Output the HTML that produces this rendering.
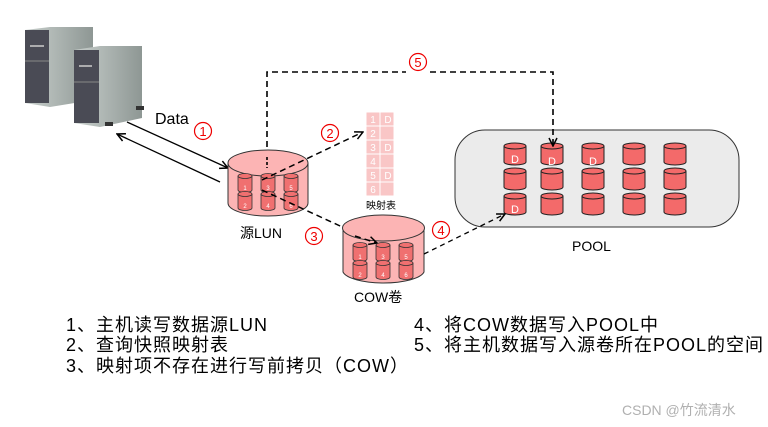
<!DOCTYPE html>
<html><head><meta charset="utf-8"><style>
html,body{margin:0;padding:0;background:#fff;}
svg{display:block;}
text{font-family:"Liberation Sans","Noto Sans CJK SC",sans-serif;}
</style></head><body>
<svg width="768" height="427" viewBox="0 0 768 427" xmlns="http://www.w3.org/2000/svg">
<defs>
<marker id="ah" markerWidth="10" markerHeight="10" refX="9" refY="5" orient="auto" markerUnits="userSpaceOnUse"><path d="M1,1 L9,5 L1,9" fill="none" stroke="#000" stroke-width="1.5"/></marker>
<g id="mc"><path d="M-7,-7 V7 A7,2.5 0 0 0 7,7 V-7" fill="#f07070" stroke="#333" stroke-width="0.8"/><ellipse cx="0" cy="-7" rx="7" ry="2.5" fill="#f07070" stroke="#333" stroke-width="0.8"/></g>
<g id="pc"><path d="M-11,-8 V8 A11,3 0 0 0 11,8 V-8" fill="#f36a6a" stroke="#222" stroke-width="1"/><ellipse cx="0" cy="-8" rx="11" ry="3" fill="#f36a6a" stroke="#222" stroke-width="1"/></g>
<linearGradient id="sg" x1="0" x2="1"><stop offset="0" stop-color="#c8cfcc"/><stop offset="1" stop-color="#8e9794"/></linearGradient>
</defs>
<!-- servers -->
<g>
<polygon points="25,30 50,27 93,27 93,100 50,107 25,103" fill="url(#sg)"/>
<rect x="25" y="30" width="24" height="73" fill="#4a4b55"/>
<line x1="30" y1="46" x2="44" y2="46" stroke="#ccc" stroke-width="1.5"/>
<line x1="25" y1="61" x2="49" y2="61" stroke="#888"/>
<polygon points="74,50 100,46 142,46 142,118 100,127 74,123" fill="url(#sg)"/>
<rect x="74" y="50" width="25" height="73" fill="#4a4b55"/>
<line x1="79" y1="66" x2="92" y2="66" stroke="#ccc" stroke-width="1.5"/>
<line x1="74" y1="82" x2="99" y2="82" stroke="#888"/>
<rect x="105" y="122" width="8" height="4" fill="#333"/>
<rect x="136" y="106" width="8" height="4" fill="#333"/>
</g>
<!-- POOL (drawn first so arrows are on top) -->
<rect x="455" y="130" width="284" height="97" rx="30" ry="30" fill="#ebebeb" stroke="#333"/>
<g>
<use href="#pc" x="515" y="154"/><use href="#pc" x="552" y="154"/><use href="#pc" x="593" y="154"/><use href="#pc" x="634" y="154"/><use href="#pc" x="675" y="154"/>
<use href="#pc" x="515" y="179"/><use href="#pc" x="552" y="179"/><use href="#pc" x="593" y="179"/><use href="#pc" x="634" y="179"/><use href="#pc" x="675" y="179"/>
<use href="#pc" x="515" y="204"/><use href="#pc" x="552" y="204"/><use href="#pc" x="593" y="204"/><use href="#pc" x="634" y="204"/><use href="#pc" x="675" y="204"/>
</g>
<g font-size="11" fill="#fff" text-anchor="middle"><text x="515" y="163">D</text><text x="552" y="165">D</text><text x="593" y="165">D</text><text x="515" y="213">D</text></g>
<text x="572" y="251" font-size="14">POOL</text>
<!-- data arrows -->
<line x1="127" y1="122" x2="228" y2="168" stroke="#000" stroke-width="1.3" marker-end="url(#ah)"/>
<line x1="220" y1="182" x2="117" y2="134" stroke="#000" stroke-width="1.3" marker-end="url(#ah)"/>
<text x="155" y="124" font-size="16">Data</text>
<g fill="none" stroke="#e00" stroke-width="1.2">
<circle cx="203" cy="131" r="8.5"/>
<circle cx="330" cy="133" r="8.5"/>
<circle cx="314" cy="236" r="8.5"/>
<circle cx="441" cy="230" r="8.5"/>
<circle cx="418" cy="62" r="8.5"/>
</g>
<g font-size="13" fill="#e00" text-anchor="middle">
<text x="203" y="136">1</text><text x="330" y="138">2</text><text x="314" y="241">3</text><text x="441" y="235">4</text><text x="418" y="67">5</text>
</g>
<!-- path 5 -->
<polyline points="267,157 267,72 406,72" fill="none" stroke="#000" stroke-width="1.6" stroke-dasharray="6,4"/>
<polyline points="430,72 553,72 553,146" fill="none" stroke="#000" stroke-width="1.6" stroke-dasharray="6,4" marker-end="url(#ah)"/>
<!-- source LUN -->
<path d="M228,163 V203 A40,13 0 0 0 308,203 V163" fill="#fcb4b4" stroke="#333"/>
<ellipse cx="268" cy="163" rx="40" ry="13" fill="#fcb4b4" stroke="#333"/>
<use href="#mc" x="245" y="183"/><use href="#mc" x="268" y="183"/><use href="#mc" x="291" y="183"/>
<use href="#mc" x="245" y="201"/><use href="#mc" x="268" y="201"/><use href="#mc" x="291" y="201"/>
<g font-size="6" fill="#fff" text-anchor="middle"><text x="245" y="190">1</text><text x="268" y="190">3</text><text x="291" y="190">5</text><text x="245" y="208">2</text><text x="268" y="208">4</text><text x="291" y="208">6</text></g>
<text x="240" y="238" font-size="14">源LUN</text>
<line x1="267" y1="157" x2="267" y2="168" stroke="#000" stroke-width="1.6" stroke-dasharray="3,2"/>
<!-- mapping arrow 2 -->
<line x1="262" y1="180" x2="363" y2="132" stroke="#000" stroke-width="1.5" stroke-dasharray="6,4" marker-end="url(#ah)"/>
<!-- mapping table -->
<g fill="#f9c6c6" stroke="#fff" stroke-width="1">
<rect x="366" y="112" width="14" height="14"/><rect x="380" y="112" width="14" height="14"/>
<rect x="366" y="126" width="14" height="14"/><rect x="380" y="126" width="14" height="14"/>
<rect x="366" y="140" width="14" height="14"/><rect x="380" y="140" width="14" height="14"/>
<rect x="366" y="154" width="14" height="14"/><rect x="380" y="154" width="14" height="14"/>
<rect x="366" y="168" width="14" height="14"/><rect x="380" y="168" width="14" height="14"/>
<rect x="366" y="182" width="14" height="14"/><rect x="380" y="182" width="14" height="14"/>
</g>
<g font-size="10" fill="#fff" text-anchor="middle"><text x="373" y="123">1</text><text x="388" y="123">D</text><text x="373" y="137">2</text><text x="373" y="151">3</text><text x="388" y="151">D</text><text x="373" y="165">4</text><text x="373" y="179">5</text><text x="388" y="179">D</text><text x="373" y="193">6</text></g>
<text x="366" y="209" font-size="10">映射表</text>
<!-- arrow 3 -->
<line x1="262" y1="190" x2="377" y2="243" stroke="#000" stroke-width="1.5" stroke-dasharray="6,4" marker-end="url(#ah)"/>
<!-- COW -->
<path d="M343,228 V272 A41,13 0 0 0 424,272 V228" fill="#fcb4b4" stroke="#333"/>
<ellipse cx="383.5" cy="228" rx="41" ry="13" fill="#fcb4b4" stroke="#333"/>
<line x1="355" y1="236" x2="377" y2="243" stroke="#000" stroke-width="1.5" stroke-dasharray="6,4" marker-end="url(#ah)"/>
<use href="#mc" x="360" y="252"/><use href="#mc" x="383" y="252"/><use href="#mc" x="406" y="252"/>
<use href="#mc" x="360" y="270"/><use href="#mc" x="383" y="270"/><use href="#mc" x="406" y="270"/>
<g font-size="6" fill="#fff" text-anchor="middle"><text x="360" y="259">1</text><text x="383" y="259">3</text><text x="406" y="259">5</text><text x="360" y="277">2</text><text x="383" y="277">4</text><text x="406" y="277">6</text></g>
<text x="354" y="302" font-size="14">COW卷</text>
<!-- arrow 4 -->
<line x1="424" y1="254" x2="505" y2="214" stroke="#000" stroke-width="1.3" stroke-dasharray="5,4" marker-end="url(#ah)"/>
<!-- legend -->
<g font-size="18" fill="#000" letter-spacing="1">
<text x="66" y="331">1、主机读写数据源LUN</text>
<text x="66" y="351">2、查询快照映射表</text>
<text x="66" y="372">3、映射项不存在进行写前拷贝（COW）</text>
<text x="414" y="331">4、将COW数据写入POOL中</text>
<text x="414" y="351">5、将主机数据写入源卷所在POOL的空间</text>
</g>
<text x="622" y="415" font-size="14" fill="#b0b0b0">CSDN @竹流清水</text>
</svg>
</body></html>
